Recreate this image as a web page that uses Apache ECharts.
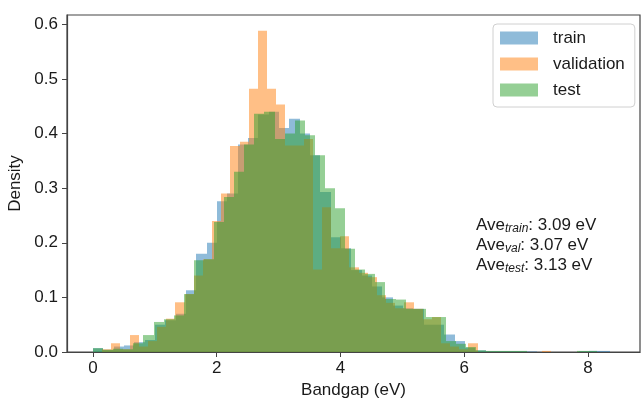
<!DOCTYPE html>
<html>
<head>
<meta charset="utf-8">
<script src="https://cdn.jsdelivr.net/npm/echarts@6/dist/echarts.min.js"></script>
<style>
html, body { margin: 0; padding: 0; background: #fff; }
#chart { width: 641px; height: 398px; }
</style>
</head>
<body>
<div id="chart"></div>
<script>
// each split got its own 50 bins (same as plt.hist with bins=50)
var seriesNames = ['train', 'validation', 'test']
var binStart = [0.0, 0.0, 0.0]
var binWidth = [0.167, 0.148, 0.163]

var trainDensity = [
  0.007, 0.004, 0.010, 0.012, 0.018, 0.022, 0.050, 0.058, 0.070, 0.113,
  0.180, 0.200, 0.276, 0.290, 0.380, 0.392, 0.435, 0.440, 0.410, 0.427,
  0.400, 0.360, 0.293, 0.210, 0.190, 0.150, 0.140, 0.120, 0.100, 0.085,
  0.080, 0.079, 0.050, 0.050, 0.032, 0.020, 0.008, 0.003, 0.001, 0.001,
  0.001, 0.001, 0.001, 0, 0, 0, 0, 0.001, 0.002, 0.002
]
var valDensity = [
  0.000, 0.005, 0.016, 0.005, 0.031, 0.010, 0.020, 0.046, 0.061, 0.091,
  0.106, 0.140, 0.170, 0.240, 0.290, 0.377, 0.385, 0.482, 0.588, 0.482,
  0.453, 0.378, 0.378, 0.390, 0.151, 0.265, 0.190, 0.212, 0.155, 0.145,
  0.137, 0.104, 0.090, 0.080, 0.091, 0.079, 0.060, 0.064, 0.016, 0.010,
  0.005, 0.016, 0, 0, 0, 0, 0, 0, 0, 0.002
]
var testDensity = [
  0.007, 0.004, 0.006, 0.005, 0.016, 0.031, 0.055, 0.060, 0.067, 0.106,
  0.168, 0.170, 0.238, 0.284, 0.330, 0.380, 0.436, 0.440, 0.390, 0.400,
  0.424, 0.397, 0.360, 0.300, 0.263, 0.189, 0.151, 0.143, 0.128, 0.097,
  0.096, 0.079, 0.079, 0.064, 0.064, 0.020, 0.015, 0.009, 0.003, 0.002,
  0.002, 0.002, 0.002, 0, 0, 0, 0, 0, 0.002, 0.002
]
var averages = ['3.09', '3.07', '3.13']
var avgKeys = ['train', 'val', 'test']

var xTicks = [0, 2, 4, 6, 8]
var yTicks = [0, 0.1, 0.2, 0.3, 0.4, 0.5, 0.6]

var colors = ['rgba(31,119,180,0.5)', 'rgba(255,127,14,0.5)', 'rgba(44,160,44,0.5)']
var FONT = 'Liberation Sans, Arial, sans-serif'
var TXT = '#1a1a1a'
var AXC = '#444'

function toBins(k, dens) {
  var out = []
  for (var i = 0; i < dens.length; i++) {
    var x0 = binStart[k] + binWidth[k] * i
    out.push([x0, x0 + binWidth[k], dens[i]])
  }
  return out
}

function makeRender(color) {
  return function (params, api) {
    var top = api.coord([api.value(0), api.value(2)])
    var bot = api.coord([api.value(1), 0])
    var x0 = Math.round(top[0]), x1 = Math.round(bot[0])
    return {
      type: 'rect',
      shape: { x: x0, y: top[1], width: x1 - x0, height: bot[1] - top[1] },
      style: { fill: color }
    }
  }
}

var allDens = [trainDensity, valDensity, testDensity]
var series = []
for (var k = 0; k < 3; k++) {
  series.push({
    name: seriesNames[k],
    type: 'custom',
    renderItem: makeRender(colors[k]),
    encode: { x: [0, 1], y: 2 },
    itemStyle: { color: colors[k] },
    data: toBins(k, allDens[k])
  })
}

var aveLines = []
for (var i = 0; i < 3; i++) {
  aveLines.push('Ave{s|' + avgKeys[i] + '}: ' + averages[i] + ' eV')
}

var chart = echarts.init(document.getElementById('chart'), null, { renderer: 'canvas' })
chart.setOption({
  animation: false,
  backgroundColor: '#fff',
  color: colors,
  grid: {
    left: 67, right: 1, top: 15, bottom: 46,
    show: true, borderColor: AXC, borderWidth: 1.2,
    containLabel: false, outerBoundsMode: 'none'
  },
  xAxis: {
    type: 'value',
    min: -0.42, max: 8.84,
    name: 'Bandgap (eV)',
    nameLocation: 'middle',
    nameGap: 22,
    nameTextStyle: { fontSize: 17, fontFamily: FONT, color: TXT },
    splitLine: { show: false },
    axisLine: { show: true, onZero: false, lineStyle: { color: AXC, width: 1.2 } },
    axisTick: { show: true, length: 5, lineStyle: { color: AXC }, customValues: xTicks },
    axisLabel: {
      customValues: xTicks, fontSize: 17, fontFamily: FONT, color: TXT, margin: 8,
      formatter: function (v) { return String(v) }
    }
  },
  yAxis: {
    type: 'value',
    min: 0, max: 0.617,
    name: 'Density',
    nameLocation: 'middle',
    nameGap: 38,
    nameTextStyle: { fontSize: 17, fontFamily: FONT, color: TXT },
    splitLine: { show: false },
    axisLine: { show: true, onZero: false, lineStyle: { color: AXC, width: 1.2 } },
    axisTick: { show: true, length: 5, lineStyle: { color: AXC }, customValues: yTicks },
    axisLabel: {
      customValues: yTicks, fontSize: 17, fontFamily: FONT, color: TXT, margin: 9,
      formatter: function (v) { return v.toFixed(1) }
    }
  },
  legend: {
    data: seriesNames,
    orient: 'vertical',
    left: 493, top: 24,
    icon: 'rect',
    itemWidth: 38, itemHeight: 13,
    itemGap: 8,
    padding: [5, 10, 8, 7],
    borderColor: '#d0d0d0', borderWidth: 1, borderRadius: 4,
    textStyle: { fontSize: 17, fontFamily: FONT, color: TXT, lineHeight: 18, padding: [0, 0, 0, 10] }
  },
  graphic: [{
    type: 'text',
    left: 476, top: 215,
    style: {
      text: aveLines.join('\n'),
      font: '17px ' + FONT,
      fill: TXT,
      lineHeight: 20,
      rich: {
        s: { fontSize: 12, fontStyle: 'italic', fontFamily: FONT, fill: TXT, verticalAlign: 'bottom', lineHeight: 20, padding: [7, 0, 0, 0] }
      }
    }
  }],
  series: series
})
</script>
</body>
</html>
